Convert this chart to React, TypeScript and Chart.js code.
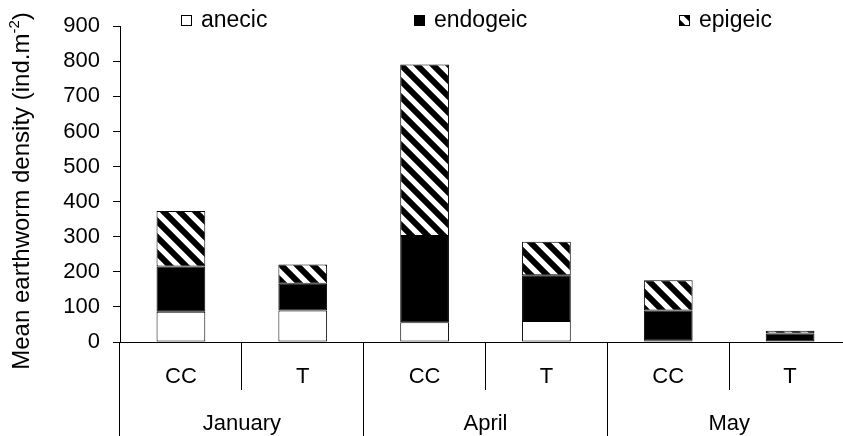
import React, { useEffect, useRef } from "react";
import { Chart, registerables } from "chart.js";

Chart.register(...registerables);

const months = ["January", "April", "May"];
const treatments = ["CC", "T", "CC", "T", "CC", "T"];
const seriesNames = ["anecic", "endogeic", "epigeic"];
const anecic = [86, 90, 56, 60, 5, 0];
const endogeic = [129, 76, 246, 130, 85, 24];
const epigeic = [158, 55, 489, 96, 86, 8];
const yMin = 0;
const yMax = 900;
const yStep = 100;
const yTitleMain = "Mean earthworm density (ind.m";
const yTitleSup = "-2";
const yTitleEnd = ")";

const FONT = "'Liberation Sans', Arial, Helvetica, sans-serif";

function makeHatch(): CanvasPattern {
  const s = 16;
  const c = document.createElement("canvas");
  c.width = s;
  c.height = s;
  const g = c.getContext("2d")!;
  g.fillStyle = "#fff";
  g.fillRect(0, 0, s, s);
  g.strokeStyle = "#000";
  g.lineWidth = 6;
  g.beginPath();
  for (const k of [-s, 0, s]) {
    g.moveTo(k - 3, -3);
    g.lineTo(k + s + 3, s + 3);
  }
  g.stroke();
  return g.createPattern(c, "repeat")!;
}

const legendPlugin = {
  id: "customLegend",
  afterDraw(chart: any) {
    const ctx = chart.ctx as CanvasRenderingContext2D;
    const xs = [181, 414, 679];
    chart.data.datasets.forEach((ds: any, i: number) => {
      const x = xs[i];
      const y = 15;
      ctx.save();
      ctx.fillStyle = ds.backgroundColor;
      ctx.fillRect(x, y, 11, 11);
      ctx.strokeStyle = "#000";
      ctx.lineWidth = 1;
      ctx.strokeRect(x + 0.5, y + 0.5, 10, 10);
      ctx.fillStyle = "#000";
      ctx.font = `23px ${FONT}`;
      ctx.textBaseline = "middle";
      ctx.textAlign = "left";
      ctx.fillText(ds.label, x + 20, 21);
      ctx.restore();
    });
  },
};

const yTitlePlugin = {
  id: "yTitle",
  afterDraw(chart: any) {
    const ctx = chart.ctx as CanvasRenderingContext2D;
    ctx.save();
    ctx.translate(22, 191);
    ctx.rotate(-Math.PI / 2);
    ctx.fillStyle = "#000";
    ctx.textBaseline = "middle";
    ctx.textAlign = "left";
    const f1 = `24px ${FONT}`;
    const f2 = `15px ${FONT}`;
    ctx.font = f1;
    const w1 = ctx.measureText(yTitleMain).width;
    const w3 = ctx.measureText(yTitleEnd).width;
    ctx.font = f2;
    const w2 = ctx.measureText(yTitleSup).width;
    let x = -(w1 + w2 + w3) / 2;
    ctx.font = f1;
    ctx.fillText(yTitleMain, x, 0);
    x += w1;
    ctx.font = f2;
    ctx.fillText(yTitleSup, x, -7);
    x += w2;
    ctx.font = f1;
    ctx.fillText(yTitleEnd, x, 0);
    ctx.restore();
  },
};

export default function App() {
  const ref = useRef<HTMLCanvasElement>(null);
  useEffect(() => {
    const hatch = makeHatch();
    const common = {
      borderColor: "#000",
      borderWidth: 1,
      borderSkipped: false,
      barPercentage: 0.4,
      categoryPercentage: 1,
    };
    const chart = new Chart(ref.current!, {
      type: "bar",
      data: {
        labels: treatments,
        datasets: [
          { label: seriesNames[0], data: anecic, backgroundColor: "#fff", ...common },
          { label: seriesNames[1], data: endogeic, backgroundColor: "#000", ...common },
          { label: seriesNames[2], data: epigeic, backgroundColor: hatch, ...common },
        ],
      },
      options: {
        responsive: false,
        animation: false,
        devicePixelRatio: 1,
        layout: { padding: { top: 16, right: 5, left: 0, bottom: 0 } },
        plugins: { legend: { display: false }, tooltip: { enabled: false } },
        scales: {
          y: {
            stacked: true,
            min: yMin,
            max: yMax,
            afterFit: (s: any) => {
              s.width = 120;
            },
            ticks: {
              stepSize: yStep,
              padding: 13,
              color: "#000",
              font: { family: FONT, size: 22 },
            },
            grid: {
              drawOnChartArea: false,
              drawTicks: true,
              tickLength: 7,
              color: "#000",
            },
            border: { display: true, color: "#000", width: 1 },
          },
          x: {
            stacked: true,
            weight: 0,
            afterFit: (s: any) => {
              s.height = 48;
            },
            ticks: {
              color: "#000",
              padding: -26,
              maxRotation: 0,
              autoSkip: false,
              font: { family: FONT, size: 22 },
            },
            grid: {
              offset: true,
              drawOnChartArea: false,
              drawTicks: true,
              tickLength: 48,
              color: "#000",
            },
            border: { display: true, color: "#000", width: 1 },
          },
          x2: {
            type: "category",
            labels: months,
            position: "bottom",
            offset: true,
            weight: 1,
            afterFit: (s: any) => {
              s.height = 46;
            },
            ticks: {
              color: "#000",
              padding: -25,
              maxRotation: 0,
              autoSkip: false,
              font: { family: FONT, size: 22 },
            },
            grid: {
              offset: true,
              drawOnChartArea: false,
              drawTicks: true,
              tickLength: 46,
              color: "#000",
            },
            border: { display: false },
          },
        },
      } as any,
      plugins: [legendPlugin, yTitlePlugin],
    });
    return () => chart.destroy();
  }, []);
  return (
    <div
      style={{
        position: "absolute",
        left: 0,
        top: 0,
        width: 843,
        height: 436,
        overflow: "hidden",
        background: "#fff",
      }}
    >
      <canvas ref={ref} width={856} height={436} style={{ display: "block" }} />
    </div>
  );
}
